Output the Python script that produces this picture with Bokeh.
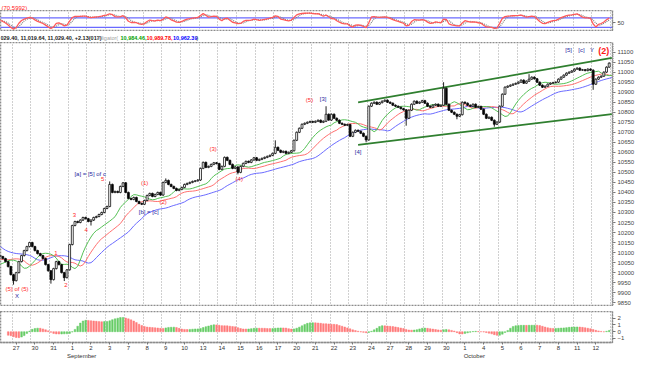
import numpy as np
import pandas as pd
from bokeh.plotting import figure
from bokeh.models import Range1d, FixedTicker, SingleIntervalTicker, Grid, ColumnDataSource, LinearAxis
from bokeh.layouts import column
from bokeh.embed import file_html
from bokeh.resources import INLINE
from bokeh.core.properties import value

# ---------------- data (hourly closes, 7 bars per session) ----------------
# history before the visible window: Aug 20, 23, 24, 25 and first 3 bars of Aug 26
pre_closes = [10250, 10230, 10200, 10190, 10210, 10230, 10213,
              10235, 10255, 10240, 10220, 10200, 10185, 10174,
              10100, 10080, 10070, 10060, 10050, 10055, 10040,
              9990, 9970, 10000, 10020, 10040, 10055, 10060,
              10070, 10085, 10080]
# last 4 bars of Aug 26, then Aug 27, 30, 31
aug_closes = [10070, 10055, 10030, 9990,
              9960, 10000, 10055, 10085, 10110, 10130, 10150,
              10130, 10110, 10095, 10085, 10070, 10040, 10009,
              9965, 10020, 10055, 10040, 10000, 9975, 10014]
sep_closes = [10140, 10235, 10255, 10250, 10262, 10275, 10269,   # 1
              10255, 10262, 10275, 10280, 10290, 10300, 10320,   # 2
              10330, 10440, 10400, 10405, 10400, 10430, 10448,   # 3
              10400, 10370, 10365, 10375, 10355, 10345, 10341,   # 7
              10360, 10385, 10395, 10380, 10390, 10400, 10387,   # 8
              10450, 10460, 10440, 10430, 10420, 10410, 10415,   # 9
              10425, 10440, 10445, 10450, 10455, 10458, 10462,   # 10
              10520, 10550, 10525, 10530, 10540, 10548, 10544,   # 13
              10515, 10530, 10575, 10560, 10540, 10520, 10527,   # 14
              10500, 10530, 10545, 10555, 10550, 10562, 10573,   # 15
              10560, 10565, 10570, 10575, 10580, 10585, 10595,   # 16
              10625, 10610, 10600, 10605, 10595, 10600, 10608,   # 17
              10660, 10700, 10720, 10740, 10745, 10750, 10754,   # 20
              10750, 10755, 10760, 10750, 10755, 10790, 10761,   # 21
              10790, 10770, 10760, 10745, 10740, 10735, 10739,   # 22
              10680, 10700, 10710, 10705, 10695, 10680, 10662,   # 23
              10830, 10845, 10850, 10840, 10848, 10855, 10860,   # 24
              10850, 10845, 10835, 10830, 10825, 10818, 10812,   # 27
              10770, 10810, 10840, 10855, 10845, 10850, 10858,   # 28
              10845, 10830, 10825, 10835, 10840, 10830, 10835,   # 29
              10920, 10840, 10810, 10800, 10790, 10780, 10788]   # 30
oct_closes = [10850, 10845, 10835, 10830, 10840, 10825, 10829,   # 1
              10815, 10790, 10770, 10775, 10760, 10740, 10751,   # 4
              10830, 10890, 10925, 10930, 10935, 10940, 10944,   # 5
              10950, 10960, 10945, 10955, 10965, 10975, 10967,   # 6
              10950, 10935, 10925, 10930, 10940, 10945, 10948,   # 7
              10950, 10965, 10975, 10985, 10995, 11000, 11006,   # 8
              11015, 11020, 11010, 11012, 11008, 11015, 11010,   # 11
              10940, 10965, 10975, 10980, 11000, 11025, 11045]   # 12
first_open = 10240

spike_high_bar = [40, 61, 102, 121, 165, 197]
spike_high_val = [10455, 10470, 10660, 10830, 10950, 10990]
spike_low_bar = [4, 18, 23, 33, 88, 136, 151, 170, 184, 221]
spike_low_val = [9940, 9945, 9958, 10235, 10490, 10650, 10733, 10765, 10728, 10912]

session_labels = ["27", "30", "31", "1", "2", "3", "7", "8", "9", "10", "13", "14", "15", "16",
                  "17", "20", "21", "22", "23", "24", "27", "28", "29", "30", "1", "4", "5", "6",
                  "7", "8", "11", "12"]
month_names = ["September", "October"]
month_first_session = [3, 24]

channel_x = [133, 228]
channel_upper = [10849, 11071]
channel_lower = [10637, 10791]

wave_text = ["(5) of (5)", "X", "1", "2", "3", "4", "5", "[a] = [5] of c", "(1)", "[b] = [c]",
             "(2)", "(3)", "(4)", "(5)", "[3]", "[4]", "[5]", "[c]", "Y"]
wave_bar = [5.3, 5.3, 19.9, 23.6, 26.8, 31.2, 37.4, 32.7, 53.1, 54.6,
            60.0, 78.7, 88.5, 114.8, 119.9, 133.0, 211.8, 216.6, 220.6]
wave_price = [9918, 9884, 10096, 9940, 10289, 10212, 10468, 10492, 10448, 10304,
              10352, 10617, 10468, 10859, 10864, 10603, 11110, 11110, 11110]
wave_is_blue = [False, True, False, False, False, False, False, True, False, True,
                False, False, False, False, True, True, True, True, True]
big_label = "(2)"
big_label_bar = 225.0
big_label_price = 11105

rsi_title = "(70.5992)"
quote_text = "029.40, 11,019.64, 11,029.40, +2.13(017)"
alligator_values = ["10,984.46,", "10,989.78,", "10,962.39"]

# ---------------- derived series ----------------
closes = np.array(pre_closes + aug_closes + sep_closes + oct_closes, dtype=float)
n_pre = len(pre_closes)
idx = np.arange(len(closes)) - n_pre
opens = np.concatenate([[first_open], closes[:-1]])
body_hi = np.maximum(opens, closes)
body_lo = np.minimum(opens, closes)
highs = body_hi + 4
lows = body_lo - 4
for b, v in zip(spike_high_bar, spike_high_val):
    highs[b + n_pre] = v
for b, v in zip(spike_low_bar, spike_low_val):
    lows[b + n_pre] = v
median = (highs + lows) / 2


def smma(x, n):
    out = np.full(len(x), np.nan)
    out[n - 1] = x[:n].mean()
    for k in range(n, len(x)):
        out[k] = (out[k - 1] * (n - 1) + x[k]) / n
    return out


def rsi(c, n):
    d = np.diff(c)
    g = np.clip(d, 0, None)
    l = np.clip(-d, 0, None)
    out = np.full(len(c), np.nan)
    ag, al = g[:n].mean(), l[:n].mean()
    out[n] = 100 - 100 / (1 + ag / al) if al > 0 else 100
    for k in range(n + 1, len(c)):
        ag = (ag * (n - 1) + g[k - 1]) / n
        al = (al * (n - 1) + l[k - 1]) / n
        out[k] = 100 - 100 / (1 + ag / al) if al > 0 else 100
    return out


jaw = smma(median, 13)
teeth = smma(median, 8)
lips = smma(median, 5)
rsi_v = pd.Series(rsi(closes, 7)).rolling(2).mean().to_numpy()
rsi_sig = pd.Series(rsi_v).rolling(3).mean().to_numpy()
med_s = pd.Series(median)
ao = ((med_s.rolling(5).mean() - med_s.rolling(34).mean()) / med_s.rolling(34).mean() * 100).to_numpy()
ao_up = np.concatenate([[True], ao[1:] >= ao[:-1]])

vis = idx >= -1
src = ColumnDataSource(dict(
    x=idx[vis], lo=lows[vis], hi=highs[vis], bt=body_hi[vis], bb=body_lo[vis],
    fill=np.where(closes[vis] >= opens[vis], "white", "black"),
))

# ---------------- layout ----------------
FW = 612
RB = 22
FONT = "Liberation Sans"
n_sessions = len(session_labels)
grid_ticks = [3.5 + 7 * k for k in range(n_sessions + 1)]
x_range = Range1d(-0.88, 228.24)


def strip(h):
    s = figure(frame_width=FW, frame_height=h, x_range=Range1d(0, FW), y_range=Range1d(0, h),
               output_backend="svg", toolbar_location=None,
               x_axis_location=None, y_axis_location=None,
               min_border_left=0, min_border_right=RB, min_border_top=0, min_border_bottom=0,
               background_fill_color="white", border_fill_color="white")
    s.outline_line_color = None
    s.grid.visible = False
    return s


def panel(frame_h, yr, bottom=0, show_x=False):
    p = figure(frame_width=FW, frame_height=frame_h, x_range=x_range, y_range=yr,
               output_backend="svg", toolbar_location=None,
               x_axis_location="below" if show_x else None, y_axis_location="right",
               min_border_left=0, min_border_right=RB, min_border_top=0, min_border_bottom=bottom,
               background_fill_color="white", border_fill_color="white")
    p.outline_line_color = "#8c8c8c"
    p.outline_line_width = 1.5
    p.outline_line_dash = "2 1"
    p.xgrid.visible = False
    p.ygrid.visible = False
    p.add_layout(Grid(dimension=0, ticker=FixedTicker(ticks=grid_ticks),
                      grid_line_color="#a0a0a0", grid_line_dash="1 2", grid_line_width=1))
    ya = p.yaxis[0]
    ya.axis_line_color = "#8c8c8c"
    ya.axis_line_dash = "2 1"
    ya.major_label_text_font = FONT
    ya.major_label_text_font_size = "6px"
    ya.major_label_text_color = "#444444"
    ya.major_label_standoff = 2
    ya.major_tick_out = 3
    ya.major_tick_in = 0
    ya.minor_tick_out = 1
    ya.minor_tick_in = 0
    ya.major_tick_line_color = "#777777"
    ya.minor_tick_line_color = "#999999"
    return p


# --- RSI title strip ---
s_top = strip(10)
s_top.text(x=[1], y=[5], text=[rsi_title], text_color="#ff2020", text_font=value(FONT),
           text_font_size="6px", text_baseline="middle")

# --- RSI panel ---
p_rsi = panel(21, Range1d(12, 102))
p_rsi.yaxis[0].ticker = FixedTicker(ticks=[50])
p_rsi.yaxis[0].minor_tick_line_color = None
for lvl in (70, 30):
    p_rsi.line(x=[-10, 240], y=[lvl, lvl], line_color="#6a6aff", line_width=1.2)
p_rsi.line(x=idx, y=rsi_sig, line_color="#808080", line_dash="1 1", line_width=1.2)
p_rsi.line(x=idx, y=rsi_v, line_color="#ff5a5a", line_width=1.3)

# --- header strip ---
s_hdr = strip(11)
hy = 5.5
s_hdr.text(x=[0], y=[hy], text=[quote_text], text_color="#222222", text_font=value(FONT),
           text_font_size="5.5px", text_font_style="bold", text_baseline="middle")
s_hdr.text(x=[96], y=[hy], text=["Alligator("], text_color="#a0a0a0", text_font=value(FONT),
           text_font_size="5.5px", text_baseline="middle")
s_hdr.text(x=[120, 146, 172.5], y=[hy, hy, hy], text=alligator_values,
           text_color=["#00a000", "#ff0000", "#0000ff"], text_font=value(FONT),
           text_font_size="5.5px", text_font_style="bold", text_baseline="middle")
s_hdr.text(x=[196], y=[hy], text=[")"], text_color="#444444", text_font=value(FONT),
           text_font_size="5.5px", text_baseline="middle")

# --- main panel ---
p = panel(264, Range1d(9831, 11148))
p.yaxis[0].ticker = SingleIntervalTicker(interval=50, num_minor_ticks=5)

p.line(x=idx + 8, y=jaw, line_color="#6b6bff", line_width=1)
p.line(x=idx + 5, y=teeth, line_color="#ff7070", line_width=1)
p.line(x=idx + 3, y=lips, line_color="#55c055", line_width=1)
p.line(x=channel_x, y=channel_upper, line_color="#2f7f2f", line_width=1.8)
p.line(x=channel_x, y=channel_lower, line_color="#2f7f2f", line_width=1.8)
p.segment(x0="x", y0="lo", x1="x", y1="hi", source=src, line_color="#222222", line_width=1)
p.vbar(x="x", width=0.72, top="bt", bottom="bb", source=src, fill_color="fill",
       line_color="#111111", line_width=0.8)

wsrc = ColumnDataSource(dict(
    x=wave_bar, y=wave_price, t=wave_text,
    c=["#2a2aa0" if b else "#ff2a2a" for b in wave_is_blue]))
p.text(x="x", y="y", text="t", source=wsrc, text_color="c", text_font=value(FONT),
       text_font_size="6px", text_align="center", text_baseline="middle")
p.text(x=[big_label_bar], y=[big_label_price], text=[big_label], text_color="#ff1a1a",
       text_font=value(FONT), text_font_size="9px", text_font_style="bold",
       text_align="center", text_baseline="middle")

# --- separator strip ---
s_sep = strip(5)

# --- AO panel ---
p_ao = panel(31, Range1d(-1.6, 3.0), bottom=0, show_x=True)
p_ao.yaxis[0].ticker = FixedTicker(ticks=[-1, 0, 1, 2])
p_ao.yaxis[0].minor_tick_line_color = None
aosrc = ColumnDataSource(dict(x=idx[vis], top=ao[vis],
                              c=np.where(ao_up[vis], "#66cc66", "#ff7a7a")))
p_ao.vbar(x="x", width=0.6, top="top", bottom=0, source=aosrc, fill_color="c", line_color="c",
          line_width=0.5)
xa = p_ao.xaxis[0]
label_ticks = [5 + 7 * k for k in range(n_sessions)]
xa.ticker = FixedTicker(ticks=label_ticks)
xa.major_label_overrides = {t: s for t, s in zip(label_ticks, session_labels)}
xa.major_label_text_font = FONT
xa.major_label_text_font_size = "6px"
xa.major_label_text_color = "#333333"
xa.major_label_standoff = 1
xa.major_tick_out = 2
xa.major_tick_in = 0
xa.minor_tick_line_color = None
xa.axis_line_color = "#8c8c8c"
xa.axis_line_dash = "2 1"
xa.axis_line_width = 1.5
xa.major_tick_line_color = "#777777"

month_ticks = [3.5 + 7 * s + 5 for s in month_first_session]
ma = LinearAxis(ticker=FixedTicker(ticks=month_ticks),
                major_label_overrides={t: n for t, n in zip(month_ticks, month_names)})
ma.axis_line_color = None
ma.major_tick_line_color = None
ma.minor_tick_line_color = None
ma.major_tick_out = 0
ma.major_label_standoff = 0
ma.major_label_text_font = FONT
ma.major_label_text_font_size = "6px"
ma.major_label_text_color = "#333333"
p_ao.add_layout(ma, "below")

layout = column(s_top, p_rsi, s_hdr, p, s_sep, p_ao, spacing=0)
open("out.html", "w").write(file_html(layout, INLINE))
